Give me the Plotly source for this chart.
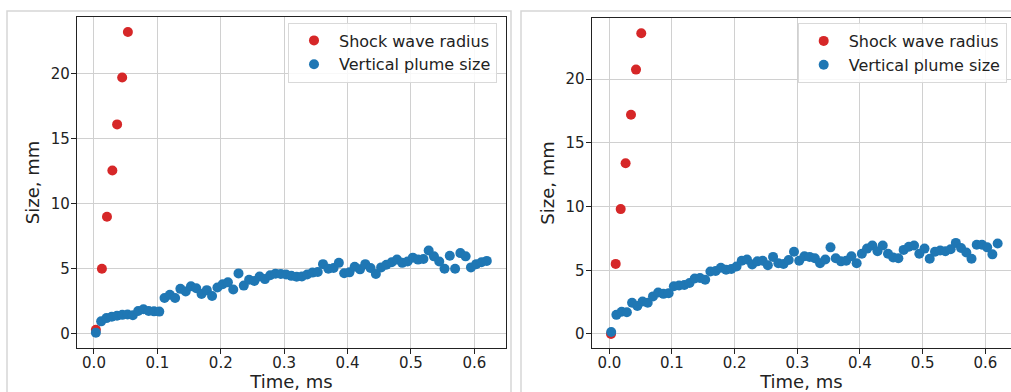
import plotly.graph_objects as go

# ---------------- data ----------------
# Left panel
shock_t_left = [0.0030, 0.0125, 0.0205, 0.0290, 0.0365, 0.0445, 0.0535]
shock_r_left = [0.3, 5.0, 9.0, 12.55, 16.1, 19.7, 23.2]

plume_t = [0.0030, 0.0113, 0.0197, 0.0280, 0.0363, 0.0447, 0.0530, 0.0613, 0.0697, 0.0780,
           0.0863, 0.0947, 0.1030, 0.1113, 0.1197, 0.1280, 0.1363, 0.1447, 0.1530, 0.1613,
           0.1697, 0.1780, 0.1863, 0.1947, 0.2030, 0.2113, 0.2197, 0.2280, 0.2363, 0.2447,
           0.2530, 0.2613, 0.2697, 0.2780, 0.2863, 0.2947, 0.3030, 0.3113, 0.3197, 0.3280,
           0.3363, 0.3447, 0.3530, 0.3613, 0.3697, 0.3780, 0.3863, 0.3947, 0.4030, 0.4113,
           0.4197, 0.4280, 0.4363, 0.4447, 0.4530, 0.4613, 0.4697, 0.4780, 0.4863, 0.4947,
           0.5030, 0.5113, 0.5197, 0.5280, 0.5363, 0.5447, 0.5530, 0.5613, 0.5697, 0.5780,
           0.5863, 0.5947, 0.6030, 0.6113, 0.6197]

plume_left = [0.08, 0.95, 1.2, 1.3, 1.38, 1.45, 1.48, 1.42, 1.75, 1.88,
              1.75, 1.72, 1.7, 2.75, 3.0, 2.75, 3.45, 3.25, 3.65, 3.5,
              3.05, 3.35, 2.9, 3.55, 3.8, 3.95, 3.4, 4.64, 3.7, 4.15,
              4.05, 4.4, 4.2, 4.5, 4.62, 4.6, 4.55, 4.45, 4.38, 4.4,
              4.55, 4.7, 4.75, 5.35, 5.0, 5.05, 5.45, 4.65, 4.72, 5.15,
              4.95, 5.35, 5.05, 4.6, 5.1, 5.3, 5.5, 5.7, 5.45, 5.55,
              5.85, 5.7, 5.75, 6.4, 5.95, 5.55, 5.0, 6.0, 5.0, 6.2,
              5.95, 5.1, 5.35, 5.5, 5.6]

# Right panel
shock_t_right = [0.0027, 0.0102, 0.0182, 0.0260, 0.0346, 0.0426, 0.0510]
shock_r_right = [0.0, 5.5, 9.8, 13.4, 17.2, 20.75, 23.6]

plume_right = [0.15, 1.5, 1.75, 1.7, 2.45, 2.2, 2.55, 2.45, 2.95, 3.25,
               3.15, 3.2, 3.75, 3.8, 3.85, 4.0, 4.35, 4.4, 4.25, 4.9,
               4.95, 5.2, 5.05, 5.1, 5.3, 5.75, 5.85, 5.45, 5.7, 5.75,
               5.4, 6.05, 5.55, 5.5, 5.8, 6.45, 5.75, 6.1, 6.05, 5.95,
               5.55, 5.85, 6.8, 5.95, 5.7, 5.75, 6.1, 5.55, 6.3, 6.7,
               6.95, 6.5, 6.95, 6.3, 6.0, 5.95, 6.6, 6.85, 6.95, 6.3,
               6.7, 5.9, 6.45, 6.55, 6.5, 6.65, 7.15, 6.75, 6.4, 5.9,
               7.0, 7.0, 6.8, 6.25, 7.1]

x_ticks = [0.0, 0.1, 0.2, 0.3, 0.4, 0.5, 0.6]
y_ticks = [0, 5, 10, 15, 20]

RED = "#d62728"
BLUE = "#1f77b4"
FONT = "DejaVu Sans"
W, H = 1011, 392

fig = go.Figure()

# left panel traces
fig.add_trace(go.Scatter(x=shock_t_left, y=shock_r_left, mode="markers", name="Shock wave radius",
                         marker=dict(color=RED, size=10), xaxis="x", yaxis="y", legend="legend"))
fig.add_trace(go.Scatter(x=plume_t, y=plume_left, mode="markers", name="Vertical plume size",
                         marker=dict(color=BLUE, size=10), xaxis="x", yaxis="y", legend="legend"))
# right panel traces
fig.add_trace(go.Scatter(x=shock_t_right, y=shock_r_right, mode="markers", name="Shock wave radius",
                         marker=dict(color=RED, size=10), xaxis="x2", yaxis="y2", legend="legend2"))
fig.add_trace(go.Scatter(x=plume_t, y=plume_right, mode="markers", name="Vertical plume size",
                         marker=dict(color=BLUE, size=10), xaxis="x2", yaxis="y2", legend="legend2"))

def px_x(p):
    return p / W

def px_y(p):
    return 1 - p / H

axis_common = dict(showgrid=True, gridcolor="#d0d0d0", gridwidth=1,
                   showline=True, linecolor="#222222", linewidth=1.2,
                   ticks="outside", ticklen=5, tickwidth=1, tickcolor="#222222",
                   zeroline=False,
                   tickfont=dict(family=FONT, size=15, color="#222222"))

xtitle = dict(text="Time, ms", font=dict(family=FONT, size=18), standoff=7)
ytitle = dict(text="Size, mm", font=dict(family=FONT, size=18), standoff=6)

fig.update_layout(
    width=W, height=H,
    margin=dict(l=0, r=0, t=0, b=0, autoexpand=False),
    paper_bgcolor="white", plot_bgcolor="white",
    font=dict(family=FONT, color="#222222"),
    xaxis=dict(domain=[px_x(77), px_x(506)], range=[-0.0268, 0.650], anchor="y",
               tickvals=x_ticks, tickformat=".1f", mirror=True, ticklabelstandoff=-4,
               title=xtitle, **axis_common),
    yaxis=dict(domain=[px_y(348), px_y(17)], range=[-1.1, 24.36], anchor="x",
               tickvals=y_ticks, mirror=True, ticklabelstandoff=-2,
               title=ytitle, **axis_common),
    xaxis2=dict(domain=[px_x(591.7), 1.0], range=[-0.0281, 0.641], anchor="y2",
                tickvals=x_ticks, tickformat=".1f", mirror=True, ticklabelstandoff=-4,
                title=xtitle, **axis_common),
    yaxis2=dict(domain=[px_y(348), px_y(18)], range=[-1.1, 24.8], anchor="x2",
                tickvals=y_ticks, mirror=False, ticklabelstandoff=-2,
                title=ytitle, **axis_common),
    legend=dict(x=px_x(288), y=px_y(22.5), xanchor="left", yanchor="top",
                bgcolor="rgba(255,255,255,0.85)", bordercolor="#d9d9d9", borderwidth=1,
                font=dict(family=FONT, size=16, color="#222222"), itemwidth=40),
    legend2=dict(x=px_x(797.7), y=px_y(23), xanchor="left", yanchor="top",
                 bgcolor="rgba(255,255,255,0.85)", bordercolor="#d9d9d9", borderwidth=1,
                 font=dict(family=FONT, size=16, color="#222222"), itemwidth=40),
    shapes=[
        dict(type="rect", xref="paper", yref="paper", x0=px_x(7), x1=px_x(511),
             y0=-0.1, y1=px_y(11), line=dict(color="#d6d6d6", width=1.5), layer="below"),
        dict(type="rect", xref="paper", yref="paper", x0=px_x(521), x1=1.1,
             y0=-0.1, y1=px_y(11), line=dict(color="#d6d6d6", width=1.5), layer="below"),
    ],
)

fig.write_html("out.html", config={"displayModeBar": False},
               post_script="document.body.style.margin='0';")
